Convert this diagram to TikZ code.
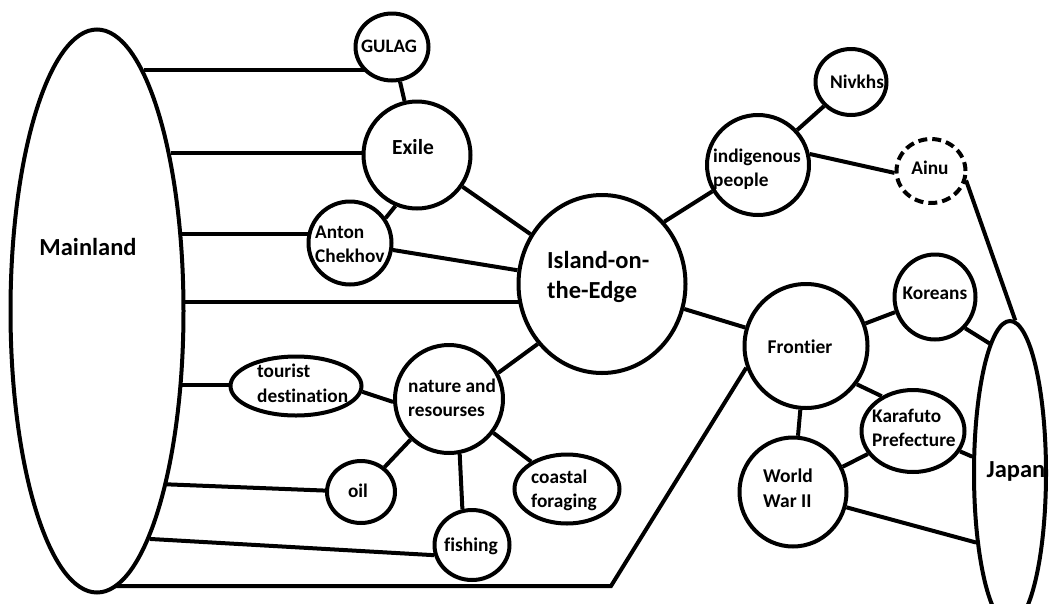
\documentclass[tikz,border=0pt]{standalone}
\usepackage{fontspec}
\setmainfont{Carlito}[Ligatures=NoCommon]
\usetikzlibrary{shapes.geometric}
\pgfdeclarelayer{background}
\pgfsetlayers{background,main}
\begin{document}
\begin{tikzpicture}[x=1pt,y=-1pt,
  bub/.style={ellipse,draw,line width=4pt,fill=white,inner sep=0pt},
  sz/.style 2 args={minimum width=#1pt,minimum height=#2pt},
  link/.style={line width=4pt},
  txt/.style={inner sep=0pt,align=left,font=\bfseries\fontsize{19.3}{24.5}\selectfont},
  txtm/.style={inner sep=0pt,align=left,font=\bfseries\fontsize{19.5}{24.5}\selectfont},
  txtl/.style={inner sep=0pt,align=left,font=\bfseries\fontsize{24.5}{30}\selectfont},
  dsh/.style={dash pattern=on 9pt off 5pt}]
\useasboundingbox (0,0) rectangle (1050,603);
% shapes
\node[bub,sz={173}{563}] (Mainland) at (97,311) {};
\node[bub,sz={73}{67}] (GULAG) at (392,47) {};
\node[bub,sz={107}{107}] (Exile) at (417,155) {};
\node[bub,sz={83}{83}] (Anton) at (350,243) {};
\node[bub,sz={167}{178}] (Island) at (602,284) {};
\node[bub,sz={102}{100}] (indig) at (758,165) {};
\node[bub,sz={71}{66}] (Nivkhs) at (851,82) {};
\node[bub,sz={69}{64},dsh] (Ainu) at (931,171) {};
\node[bub,sz={81}{85}] (Koreans) at (935,297) {};
\node[bub,sz={123}{124}] (Frontier) at (806,346) {};
\node[bub,sz={103}{82}] (Karafuto) at (913,431) {};
\node[bub,sz={107}{109}] (WWII) at (793,492) {};
\node[bub,sz={72}{304}] (Japan) at (1010,473) {};
\node[bub,sz={131}{59}] (tourist) at (296,386) {};
\node[bub,sz={108}{108}] (nature) at (449,399) {};
\node[bub,sz={68}{62}] (oil) at (361,492) {};
\node[bub,sz={75}{70}] (fishing) at (472,545) {};
\node[bub,sz={105}{69}] (coastal) at (567,489) {};
\coordinate (bend) at (611,586);
% texts
\node[txtl,anchor=base] (MainlandT) at (88,255) {Mainland};
\node[txt,font=\bfseries\fontsize{19}{24}\selectfont,anchor=base] (GULAGT) at (389,52) {GULAG};
\node[txt,font=\bfseries\fontsize{21.5}{26}\selectfont,anchor=base] (ExileT) at (413,154) {Exile};
\node[txt,anchor=north west] (AntonT) at (315,225.5) {Anton\\Chekhov};
\node[txtl,anchor=north west] (IslandT) at (547,251) {Island-on-\\the-Edge};
\node[txt,anchor=north west] (indigT) at (713,148.5) {indigenous\\people};
\node[txt,anchor=base] (NivkhsT) at (857,88) {Nivkhs};
\node[txt,anchor=base] (AinuT) at (930,174) {Ainu};
\node[txt,anchor=base] (KoreansT) at (935,299) {Koreans};
\node[txtm,anchor=base] (FrontierT) at (800,353) {Frontier};
\node[txt,anchor=north west] (KarafutoT) at (872,408.5) {Karafuto\\Prefecture};
\node[txtm,anchor=north west] (WWIIT) at (763,469) {World\\War II};
\node[txtl,anchor=base] (JapanT) at (1016,477) {Japan};
\node[txt,anchor=north west] (touristT) at (257,364) {tourist\\destination};
\node[txt,anchor=north west] (natureT) at (408,378.5) {nature and\\resourses};
\node[txt,anchor=base] (oilT) at (358,497) {oil};
\node[txtm,anchor=base] (fishingT) at (471,551) {fishing};
\node[txt,anchor=north west] (coastalT) at (531,469.5) {coastal\\foraging};
% connectors
\begin{pgfonlayer}{background}
\draw[link] (Mainland.79.6) -- (Mainland.79.6 -| GULAG);
\draw[link] (Mainland.65.2) -- (Mainland.65.2 -| Exile);
\draw[link] (Mainland.42.7) -- (Mainland.42.7 -| Anton);
\draw[link] (Mainland.6.5) -- (Mainland.6.5 -| Island);
\draw[link] (Mainland.-41) -- (Mainland.-41 -| tourist);
\draw[link] (Mainland.-68.8) -- (oil);
\draw[link] (Mainland.-77.9) -- (fishing.195);
\draw[link] (bend -| Mainland) -- (bend) -- (Frontier.200);
\draw[link] (GULAG) -- (Exile);
\draw[link] (Exile) -- (Island);
\draw[link] (Anton.35) -- (Exile.247);
\draw[link] (Anton) -- (Island);
\draw[link] (Island.45) -- (indig.210);
\draw[link] (indig) -- (Nivkhs);
\draw[link] (indig.12) -- (Ainu.183);
\draw[link] (Ainu.345) -- (Japan.88);
\draw[link] (Island) -- (Frontier);
\draw[link] (Frontier) -- (Koreans);
\draw[link] (Koreans.-46) -- (Japan.99);
\draw[link] (Frontier.-37.6) -- (Karafuto.132);
\draw[link] (Frontier) -- (WWII);
\draw[link] (WWII) -- (Karafuto);
\draw[link] (Karafuto) -- (Japan);
\draw[link] (WWII.-16) -- (Japan.244);
\draw[link] (nature.28) -- (Island.223);
\draw[link] (tourist.-5) -- (nature.183);
\draw[link] (nature) -- (oil);
\draw[link] (nature.-79) -- (fishing.105);
\draw[link] (nature) -- (coastal);
\end{pgfonlayer}
\end{tikzpicture}
\end{document}
